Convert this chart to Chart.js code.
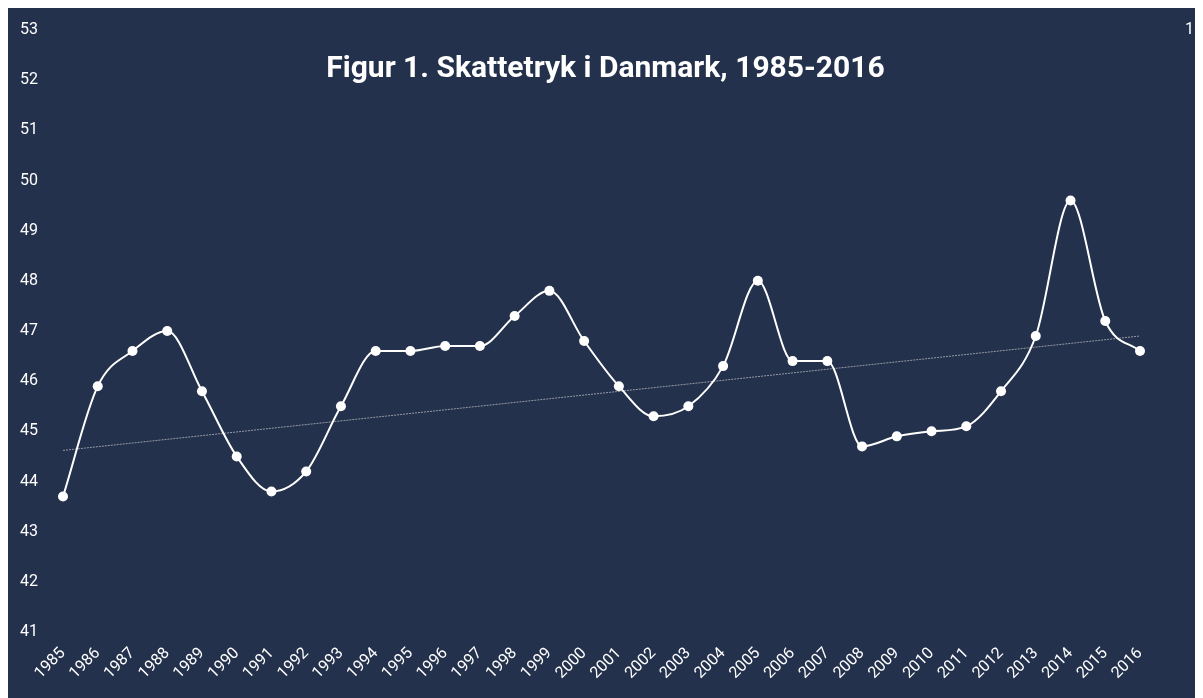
<!DOCTYPE html>
<html>
<head>
<meta charset="utf-8">
<script src="https://cdn.jsdelivr.net/npm/chart.js@4"></script>
<style>
  body { margin: 8px; background: #fff; }
  #wrap { width: 1195px; height: 690px; position: relative; }
</style>
</head>
<body>
<div id="wrap"><canvas id="taxChart"></canvas></div>
<script>
const years = ['1985','1986','1987','1988','1989','1990','1991','1992','1993','1994','1995','1996','1997','1998','1999','2000',
               '2001','2002','2003','2004','2005','2006','2007','2008','2009','2010','2011','2012','2013','2014','2015','2016'];
const taxBurden = [43.7, 45.9, 46.6, 47.0, 45.8, 44.5, 43.8, 44.2, 45.5, 46.6, 46.6, 46.7, 46.7, 47.3, 47.8, 46.8,
                   45.9, 45.3, 45.5, 46.3, 48.0, 46.4, 46.4, 44.7, 44.9, 45.0, 45.1, 45.8, 46.9, 49.6, 47.2, 46.6];
// trend line only known at both ends
const trendStart = 44.62;
const trendEnd = 46.9;
const trend = years.map((y, i) => i === 0 ? trendStart : (i === years.length - 1 ? trendEnd : null));
const chartTitle = 'Figur 1. Skattetryk i Danmark, 1985-2016';

const bgPlugin = {
    id: 'bg',
    beforeDraw(chart) {
        const c = chart.ctx;
        c.save();
        c.fillStyle = '#24314c';
        c.fillRect(0, 0, chart.width, chart.height);
        c.restore();
    },
    afterDraw(chart) {
        const c = chart.ctx;
        c.save();
        c.font = 'bold 30px Roboto';
        c.fillStyle = '#ffffff';
        c.textAlign = 'center';
        c.textBaseline = 'alphabetic';
        c.fillText(chartTitle, chart.width / 2, 69);
        c.restore();
    }
};

const ctx = document.getElementById('taxChart').getContext('2d');
const taxChart = new Chart(ctx, {
    type: 'line',
    data: {
        labels: years,
        datasets: [{
            label: 'Skattetryk',
            data: taxBurden,
            borderColor: '#ffffff',
            backgroundColor: '#ffffff',
            borderWidth: 2,
            pointRadius: 5,
            pointBorderWidth: 0,
            cubicInterpolationMode: 'monotone',
            yAxisID: 'y'
        }, {
            label: 'Trend',
            data: trend,
            borderColor: 'rgba(200,200,200,0.7)',
            borderWidth: 1,
            borderDash: [2, 1],
            pointRadius: 0,
            spanGaps: true,
            yAxisID: 'y'
        }]
    },
    options: {
        responsive: true,
        maintainAspectRatio: false,
        animation: false,
        layout: { autoPadding: false, padding: { left: 12, right: 9, top: 22, bottom: 0 } },
        plugins: {
            legend: { display: false },
            tooltip: { enabled: false }
        },
        scales: {
            x: {
                grid: { display: false, drawTicks: false },
                border: { display: false },
                afterFit: s => { s.height = 66; },
                ticks: {
                    color: '#ffffff',
                    font: { family: 'Roboto', size: 16 },
                    minRotation: 45,
                    maxRotation: 45,
                    autoSkip: false,
                    padding: 12
                }
            },
            y: {
                min: 41,
                max: 53,
                grid: { display: false, drawTicks: false },
                border: { display: false },
                afterFit: s => { s.width = 43; },
                ticks: {
                    stepSize: 1,
                    color: '#ffffff',
                    font: { family: 'Roboto', size: 16 },
                    padding: 0,
                    crossAlign: 'far'
                }
            },
            y2: {
                position: 'right',
                min: 0,
                max: 1,
                grid: { display: false, drawTicks: false },
                border: { display: false },
                afterFit: s => { s.width = 54; },
                ticks: {
                    stepSize: 1,
                    color: '#ffffff',
                    font: { family: 'Roboto', size: 16 },
                    padding: 0,
                    crossAlign: 'far',
                    callback: v => v === 1 ? '1' : ''
                }
            }
        }
    },
    plugins: [bgPlugin]
});
</script>
</body>
</html>
